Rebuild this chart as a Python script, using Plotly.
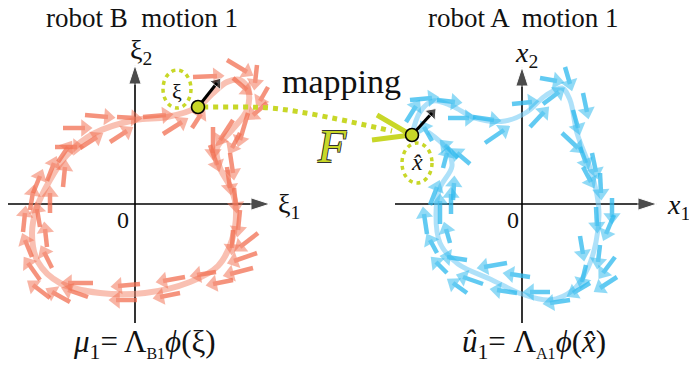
import plotly.graph_objects as go

W, H = 689, 374

# ---------------- data (panel units: 1 unit = 10 px, origin at the axes origin) -------------
# robot B, motion 1 (xi-space) trajectory
b_curve_x = [6.3, 7.7, 9.2, 10.5, 11.3, 11.2, 9.7, 8.2, 8.5, 9.7, 10.1, 9.7, 8.3, 5.5, 1.0, -3.5,
             -7.5, -9.7, -10.3, -9.8, -8.5, -6.8, -4.2, 0.0, 3.2, 6.3]
b_curve_y = [9.7, 11.0, 12.2, 12.4, 11.4, 9.4, 7.4, 5.6, 3.6, 1.4, -0.6, -3.6, -6.2, -7.8, -8.9, -8.9,
             -7.9, -5.8, -3.0, -0.3, 2.4, 4.9, 7.0, 8.4, 8.7, 9.7]
# vector-field arrows of robot B (tail -> head)
b_tail_x = [5.8, 9.2, 12.2, 9.8, 13.3, 13.2, 11.3, 9.8, 7.8, 10.5, 7.5, 9.5, 9.2, 9.9, 10.5, 9.8, 12.3,
            12.2, 11.8, 9.8, 8.1, 5.0, 4.5, 0.5, 0.2, -4.2, -4.7, -6.5, -8.5, -9.5, -8.3, -10.3, -8.8,
            -11.2, -9.5, -10.5, -8.5, -10.2, -7.2, -8.8, -7.7, -8.0, -5.5, -7.2, -5.0, -1.8, -2.5, 0.8,
            2.8, 5.7]
b_tail_y = [12.7, 14.4, 13.9, 12.6, 11.7, 10.1, 9.1, 8.4, 7.7, 7.1, 5.9, 5.1, 3.7, 1.6, -0.6, -2.6, -2.9,
            -4.9, -6.4, -7.6, -6.8, -7.3, -8.9, -8.0, -9.6, -7.9, -9.3, -9.8, -9.4, -7.6, -6.4, -5.3, -4.3,
            -2.8, -2.3, -0.6, -0.9, 1.1, 1.7, 2.3, 4.2, 5.7, 5.6, 7.6, 8.9, 8.7, 6.2, 8.7, 7.0, 7.6]
b_head_x = [8.2, 11.2, 12.0, 11.2, 12.5, 11.8, 10.5, 8.5, 7.8, 9.7, 8.2, 9.8, 9.5, 10.1, 10.3, 9.7, 10.5,
            9.9, 9.5, 7.8, 6.2, 2.8, 2.5, -1.7, -1.9, -6.7, -6.7, -8.3, -10.2, -10.7, -9.1, -11.0, -9.0,
            -11.0, -9.8, -10.2, -8.5, -9.5, -7.0, -8.1, -6.7, -5.8, -3.8, -5.0, -2.7, 0.0, -0.8, 3.1,
            4.7, 6.6]
b_head_y = [12.8, 13.2, 12.1, 11.4, 10.3, 8.9, 6.4, 6.4, 5.1, 5.6, 3.9, 3.1, 1.6, -0.2, -2.6, -4.4, -4.3,
            -5.7, -7.0, -8.0, -7.1, -7.7, -9.3, -8.2, -9.6, -7.9, -8.6, -8.8, -8.1, -5.9, -4.8, -3.6, -2.5,
            -0.9, -0.5, 1.2, 1.1, 2.8, 3.7, 4.1, 5.7, 5.7, 6.7, 7.6, 8.7, 8.6, 7.3, 8.9, 8.2, 9.0]

# robot A, motion 1 (x-space) trajectory
a_curve_x = [-11.0, -10.2, -8.9, -7.0, -4.7, -1.7, 0.5, 2.3, 4.0, 4.8, 5.5, 6.8, 7.5, 7.7, 7.4, 6.6,
             5.1, 2.8, 0.0, -3.2, -6.4, -8.2, -8.6, -8.2, -7.0, -7.6, -9.4]
a_curve_y = [6.9, 9.2, 10.3, 9.8, 8.6, 8.3, 9.2, 10.8, 11.6, 10.4, 7.1, 3.6, 0.9, -1.1, -3.8, -6.4,
             -8.6, -9.6, -9.0, -7.5, -6.0, -3.9, -1.0, 1.6, 3.8, 5.6, 7.2]
a_tail_x = [-11.2, -8.5, -7.4, -4.9, -3.7, -1.0, 0.8, 1.8, 2.1, 4.3, 6.1, 4.0, 5.1, 5.8, 7.0, 6.1, 7.8,
            9.0, 7.4, 9.2, 5.8, 7.8, 9.3, 6.4, 9.5, 6.8, 4.8, 2.8, 0.8, -0.5, -1.5, -3.9, -5.5, -5.5,
            -7.5, -8.5, -7.2, -9.5, -8.2, -7.1, -9.2, -6.9, -7.9, -5.2, -6.4, -9.0, -11.6]
a_tail_y = [10.4, 10.4, 8.6, 8.7, 6.1, 10.0, 7.7, 12.6, 10.0, 13.7, 11.1, 7.1, 9.4, 5.7, 5.1, 3.7, 3.1,
            0.6, -0.3, -1.1, -3.2, -4.1, -5.3, -6.1, -7.3, -7.9, -9.6, -8.8, -7.3, -8.9, -5.9, -8.0, -5.6,
            -8.9, -6.9, -4.9, -3.9, -3.0, -2.0, -1.0, -0.1, 0.4, 3.6, 4.0, 4.6, 6.3, 8.2]
a_head_x = [-9.0, -6.7, -5.3, -2.8, -1.8, 1.0, 2.2, 3.5, 3.7, 4.8, 6.5, 5.6, 5.6, 6.4, 7.4, 6.9, 7.9,
            9.0, 7.5, 8.4, 6.1, 7.6, 8.1, 6.0, 7.8, 5.1, 2.8, 0.8, -1.2, -2.5, -3.8, -5.9, -7.5, -6.9,
            -8.6, -9.2, -7.6, -9.8, -8.2, -7.1, -8.5, -6.8, -7.5, -6.5, -7.7, -9.8, -10.6]
a_head_y = [10.6, 10.2, 8.6, 8.4, 7.4, 10.2, 9.2, 12.3, 11.2, 12.0, 9.2, 5.6, 7.6, 4.1, 3.2, 2.2, 1.1,
            -1.3, -2.2, -3.0, -5.0, -5.8, -6.9, -7.8, -8.4, -8.9, -9.9, -8.8, -7.0, -8.6, -6.3, -7.3, -5.3,
            -7.9, -5.8, -3.6, -2.5, -1.0, 0.3, 1.0, 1.7, 2.1, 5.1, 5.1, 5.9, 7.7, 9.8]

# state points, their velocity arrows and the mapping path (left-panel units)
xi_point = (6.3, 9.7)
xi_vel = (8.2, 12.1)
xhat_point = (-11.0, 6.9)
xhat_vel = (-9.0, 9.1)
map_x = [6.8, 10.5, 13.5, 16.5, 20.2, 23.0, 25.7]
map_y = [9.7, 9.7, 9.6, 9.2, 8.5, 7.9, 7.3]
map_head_x = [23.7, 27.6, 24.2]
map_head_y = [6.4, 6.9, 8.9]

titles = ["robot B  motion 1", "robot A  motion 1"]

# ---------------- styling -------------------------------------------------------------------
SALMON = "rgb(242,112,82)"
SALMON_LINE = "rgba(244,140,115,0.55)"
BLUE = "rgb(45,185,238)"
BLUE_LINE = "rgba(120,205,245,0.6)"
GREEN = "rgb(200,215,40)"
SERIF = "Liberation Serif"

fig = go.Figure()

def add_axes(xr, yr, yb):
    fig.add_trace(go.Scatter(x=[xr[0], xr[1]], y=[0, 0], xaxis="x" + xr[2], yaxis="y" + xr[2],
                             mode="lines+markers", line=dict(color="black", width=1.6),
                             marker=dict(symbol="arrow", size=[0, 20], angleref="previous",
                                         color="black"),
                             hoverinfo="skip", showlegend=False))
    fig.add_trace(go.Scatter(x=[0, 0], y=[yb, yr], xaxis="x" + xr[2], yaxis="y" + xr[2],
                             mode="lines+markers", line=dict(color="black", width=1.6),
                             marker=dict(symbol="arrow", size=[0, 20], angleref="previous",
                                         color="black"),
                             hoverinfo="skip", showlegend=False))

def add_field(tx, ty, hx, hy, color, ax):
    for i in range(len(tx)):
        fig.add_trace(go.Scatter(x=[tx[i], hx[i]], y=[ty[i], hy[i]], xaxis="x" + ax, yaxis="y" + ax,
                                 mode="lines+markers", opacity=0.75,
                                 line=dict(color=color, width=4.5),
                                 marker=dict(symbol="triangle-up", size=[0, 15], angleref="previous",
                                             color=color, line=dict(width=0)),
                                 hoverinfo="skip", showlegend=False))

# axes
add_axes((-12.7, 13.5, ""), 13.9, -11.9)
add_axes((-12.7, 13.5, "2"), 13.7, -11.9)

# trajectories
fig.add_trace(go.Scatter(x=b_curve_x, y=b_curve_y, mode="lines", line=dict(color=SALMON_LINE, width=6,
                         shape="spline", smoothing=1.0), hoverinfo="skip", showlegend=False))
fig.add_trace(go.Scatter(x=a_curve_x, y=a_curve_y, xaxis="x2", yaxis="y2", mode="lines",
                         line=dict(color=BLUE_LINE, width=5, shape="spline", smoothing=1.0),
                         hoverinfo="skip", showlegend=False))

add_field(b_tail_x, b_tail_y, b_head_x, b_head_y, SALMON, "")
add_field(a_tail_x, a_tail_y, a_head_x, a_head_y, BLUE, "2")

# mapping path
fig.add_trace(go.Scatter(x=map_x, y=map_y, mode="lines",
                         line=dict(color=GREEN, width=5, dash="5px,5px", shape="spline"),
                         hoverinfo="skip", showlegend=False))
fig.add_trace(go.Scatter(x=map_head_x, y=map_head_y, mode="lines",
                         line=dict(color=GREEN, width=5), hoverinfo="skip", showlegend=False))

# velocity arrows at the state points
for (p, v, ax) in [(xi_point, xi_vel, ""), (xhat_point, xhat_vel, "2")]:
    fig.add_trace(go.Scatter(x=[p[0], v[0]], y=[p[1], v[1]], xaxis="x" + ax, yaxis="y" + ax,
                             mode="lines+markers", line=dict(color="black", width=3),
                             marker=dict(symbol="triangle-up", size=[0, 12], angleref="previous",
                                         color="black"),
                             hoverinfo="skip", showlegend=False))
    fig.add_trace(go.Scatter(x=[p[0]], y=[p[1]], xaxis="x" + ax, yaxis="y" + ax, mode="markers",
                             marker=dict(size=13, color=GREEN, line=dict(color="black", width=1.6)),
                             hoverinfo="skip", showlegend=False))

# dotted circles
fig.add_shape(type="circle", xref="x", yref="y", x0=2.8, x1=5.6, y0=9.6, y1=13.4, layer="below",
              line=dict(color=GREEN, width=3.5, dash="4px,4px"))
fig.add_shape(type="circle", xref="x2", yref="y2", x0=-12.0, x1=-9.0, y0=2.1, y1=6.1, layer="below",
              line=dict(color=GREEN, width=3.5, dash="4px,4px"))

def txt(x, y, s, size, ax="", **kw):
    fig.add_annotation(x=x, y=y, xref="x" + ax, yref="y" + ax, text=s, showarrow=False,
                       font=dict(family=SERIF, size=size, color=kw.pop("color", "#111")), **kw)

SUB = "<span style='font-size:16px'>%s</span>"
txt(0.7, 18.6, titles[0], 27)
txt(0.1, 18.6, titles[1], 27, "2")
txt(0.6, 15.3, "ξ<sub>2</sub>", 28)
txt(15.4, -0.1, "ξ<sub>1</sub>", 28)
txt(0.4, 15.0, "<i>x</i><sub>2</sub>", 28, "2")
txt(14.3, -0.2, "<i>x</i><sub>1</sub>", 28, "2", xanchor="left")
txt(-1.2, -1.6, "0", 24)
txt(-0.9, -1.6, "0", 24, "2")
txt(4.2, 11.3, "ξ", 22)
txt(-10.5, 4.2, "<i>x̂</i>", 24, "2")
txt(20.6, 12.3, "mapping", 34)
fig.add_annotation(x=19.7, y=5.8, xref="x", yref="y", text="<i>F</i>", showarrow=False,
                   font=dict(family=SERIF, size=46, color=GREEN,
                             shadow="-0.7px -0.7px 0 #333, 0.7px -0.7px 0 #333, "
                                    "-0.7px 0.7px 0 #333, 0.7px 0.7px 0 #333"))
txt(0.9, -14.0, "<i>μ</i><sub>1</sub>= Λ<sub>" + SUB % "B1" + "</sub><i>ϕ</i>(ξ)", 31)
txt(1.2, -14.0, "<i>û</i><sub>1</sub>= Λ<sub>" + SUB % "A1" + "</sub><i>ϕ</i>(<i>x̂</i>)", 31, "2")

# axes spanning the whole figure, 10 px per unit
ax_common = dict(visible=False, showgrid=False, zeroline=False, fixedrange=True)
fig.update_layout(
    width=W, height=H, margin=dict(l=0, r=0, t=0, b=0),
    paper_bgcolor="white", plot_bgcolor="white", showlegend=False,
    xaxis=dict(range=[-13.5, 55.4], domain=[0, 1], **ax_common),
    yaxis=dict(range=[-17.0, 20.4], domain=[0, 1], **ax_common),
    xaxis2=dict(range=[-52.2, 16.7], domain=[0, 1], overlaying="x", anchor="y2", **ax_common),
    yaxis2=dict(range=[-17.0, 20.4], domain=[0, 1], overlaying="y", anchor="x2", **ax_common),
)

fig.write_html("out.html", post_script="document.body.style.margin='0px';",
               config={"displayModeBar": False})
